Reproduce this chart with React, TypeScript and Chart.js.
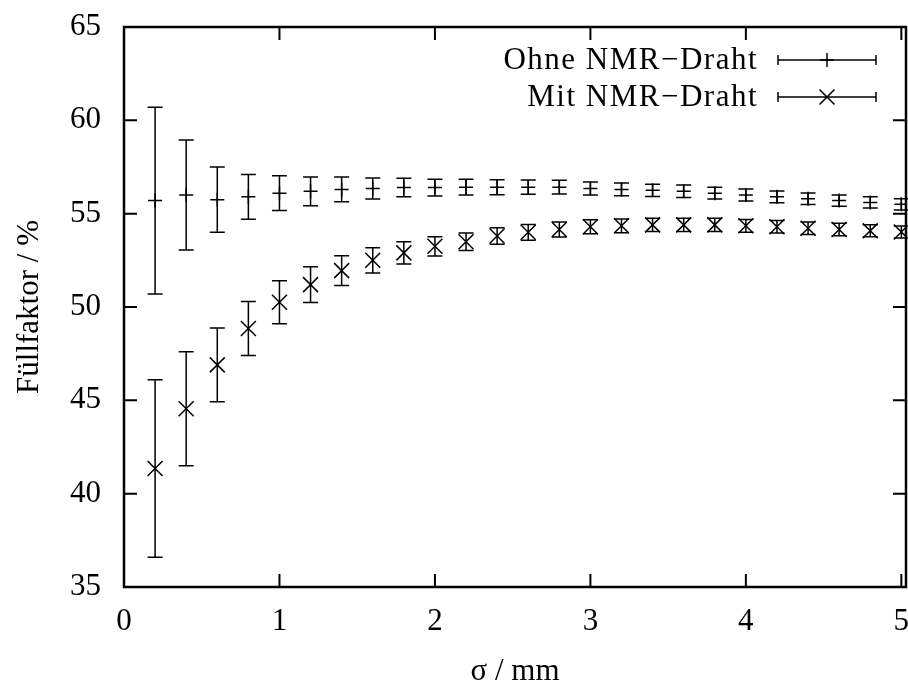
import React, { useEffect, useRef } from "react";
import { Chart, registerables } from "chart.js";

Chart.register(...registerables);

const sigma = [0.2, 0.4, 0.6, 0.8, 1.0, 1.2, 1.4, 1.6, 1.8, 2.0, 2.2, 2.4, 2.6, 2.8, 3.0, 3.2, 3.4, 3.6, 3.8, 4.0, 4.2, 4.4, 4.6, 4.8, 5.0];
const ohneValues = [55.7, 56.0, 55.75, 55.9, 56.1, 56.2, 56.3, 56.35, 56.4, 56.4, 56.42, 56.42, 56.42, 56.42, 56.35, 56.3, 56.25, 56.2, 56.1, 56.0, 55.9, 55.8, 55.7, 55.6, 55.5];
const ohneErrors = [5.0, 2.95, 1.75, 1.2, 0.93, 0.77, 0.66, 0.56, 0.5, 0.45, 0.42, 0.4, 0.38, 0.37, 0.35, 0.34, 0.33, 0.33, 0.32, 0.32, 0.31, 0.31, 0.3, 0.3, 0.3];
const mitValues = [41.35, 44.55, 46.9, 48.85, 50.25, 51.2, 51.95, 52.5, 52.9, 53.25, 53.5, 53.8, 54.0, 54.15, 54.3, 54.35, 54.4, 54.4, 54.4, 54.35, 54.3, 54.22, 54.15, 54.08, 54.02];
const mitErrors = [4.75, 3.05, 1.97, 1.45, 1.15, 0.96, 0.8, 0.68, 0.6, 0.52, 0.47, 0.44, 0.42, 0.4, 0.38, 0.37, 0.36, 0.35, 0.35, 0.34, 0.34, 0.33, 0.33, 0.32, 0.32];
const xTicks = [0, 1, 2, 3, 4, 5];
const yTicks = [35, 40, 45, 50, 55, 60, 65];
const seriesLabels = ["Ohne NMR\u2212Draht", "Mit NMR\u2212Draht"];
const xTitle = "\u03c3 / mm";
const yTitle = "F\u00fcllfaktor / %";

const FONT = "'Liberation Serif', 'Times New Roman', serif";
const FONT_SIZE = 31;

function drawMarker(ctx: CanvasRenderingContext2D, style: string, x: number, y: number) {
  ctx.beginPath();
  if (style === "cross") {
    ctx.moveTo(x - 7, y);
    ctx.lineTo(x + 7, y);
    ctx.moveTo(x, y - 7);
    ctx.lineTo(x, y + 7);
  } else {
    ctx.moveTo(x - 7.5, y - 7.5);
    ctx.lineTo(x + 7.5, y + 7.5);
    ctx.moveTo(x + 7.5, y - 7.5);
    ctx.lineTo(x - 7.5, y + 7.5);
  }
  ctx.stroke();
}

export default function App() {
  const ref = useRef<HTMLCanvasElement>(null);

  useEffect(() => {
    if (!ref.current) return;
    const errorSets = [ohneErrors, mitErrors];
    const valueSets = [ohneValues, mitValues];
    const styles = ["cross", "crossRot"];

    const plugin = {
      id: "gnuplotStyle",
      beforeDatasetsDraw(chart: any) {
        const ctx = chart.ctx as CanvasRenderingContext2D;
        const xs = chart.scales.x;
        const ys = chart.scales.y;
        ctx.save();
        ctx.strokeStyle = "#000";
        ctx.lineWidth = 1.5;
        valueSets.forEach((vals, d) => {
          vals.forEach((v, i) => {
            const px = xs.getPixelForValue(sigma[i]);
            const top = ys.getPixelForValue(v + errorSets[d][i]);
            const bot = ys.getPixelForValue(v - errorSets[d][i]);
            ctx.beginPath();
            ctx.moveTo(px, top);
            ctx.lineTo(px, bot);
            ctx.moveTo(px - 7.5, top);
            ctx.lineTo(px + 7.5, top);
            ctx.moveTo(px - 7.5, bot);
            ctx.lineTo(px + 7.5, bot);
            ctx.stroke();
          });
        });
        ctx.restore();
      },
      afterDraw(chart: any) {
        const ctx = chart.ctx as CanvasRenderingContext2D;
        const a = chart.chartArea;
        const xs = chart.scales.x;
        const ys = chart.scales.y;
        ctx.save();
        ctx.strokeStyle = "#000";
        ctx.lineWidth = 2;
        ctx.beginPath();
        xTicks.forEach((t) => {
          const px = xs.getPixelForValue(t);
          ctx.moveTo(px, a.bottom);
          ctx.lineTo(px, a.bottom - 13);
          ctx.moveTo(px, a.top);
          ctx.lineTo(px, a.top + 13);
        });
        yTicks.forEach((t) => {
          const py = ys.getPixelForValue(t);
          ctx.moveTo(a.left, py);
          ctx.lineTo(a.left + 13, py);
          ctx.moveTo(a.right, py);
          ctx.lineTo(a.right - 13, py);
        });
        ctx.stroke();
        ctx.lineWidth = 2.5;
        ctx.strokeRect(a.left, a.top, a.right - a.left, a.bottom - a.top);

        // legend
        ctx.font = `${FONT_SIZE}px ${FONT}`;
        ctx.fillStyle = "#000";
        ctx.textAlign = "right";
        ctx.textBaseline = "middle";
        (ctx as any).letterSpacing = "1.5px";
        ctx.lineWidth = 1.5;
        const rows = [60, 97];
        seriesLabels.forEach((lab, i) => {
          const y = rows[i];
          ctx.fillText(lab, 758, y + 1);
          ctx.beginPath();
          ctx.moveTo(778, y);
          ctx.lineTo(876, y);
          ctx.moveTo(778, y - 5);
          ctx.lineTo(778, y + 5);
          ctx.moveTo(876, y - 5);
          ctx.lineTo(876, y + 5);
          ctx.stroke();
          drawMarker(ctx, styles[i], 827, y);
        });
        ctx.restore();
      },
    };

    const chart = new Chart(ref.current, {
      type: "scatter",
      data: {
        datasets: [
          {
            label: seriesLabels[0],
            data: sigma.map((x, i) => ({ x, y: ohneValues[i] })),
            pointStyle: "cross",
            pointRadius: 7,
            borderColor: "#000",
            backgroundColor: "#000",
            borderWidth: 1.5,
            showLine: false,
          },
          {
            label: seriesLabels[1],
            data: sigma.map((x, i) => ({ x, y: mitValues[i] })),
            pointStyle: "crossRot",
            pointRadius: 10.6,
            borderColor: "#000",
            backgroundColor: "#000",
            borderWidth: 1.5,
            showLine: false,
          },
        ],
      },
      options: {
        responsive: false,
        animation: false,
        events: [],
        layout: { autoPadding: false, padding: { top: 27, right: 2, left: 0, bottom: 0 } },
        plugins: { legend: { display: false }, tooltip: { enabled: false } },
        scales: {
          x: {
            type: "linear",
            min: 0,
            max: 5.03,
            afterBuildTicks: (s: any) => {
              s.ticks = xTicks.map((v) => ({ value: v }));
            },
            afterFit: (s: any) => {
              s.height = 101;
              s.paddingLeft = 0;
              s.paddingRight = 0;
              s.paddingTop = 0;
              s.paddingBottom = 0;
            },
            grid: { display: false, drawTicks: false },
            border: { display: false },
            ticks: {
              font: { family: FONT, size: FONT_SIZE },
              color: "#000",
              padding: 16,
              maxRotation: 0,
              autoSkip: false,
            },
            title: {
              display: true,
              text: xTitle,
              font: { family: FONT, size: FONT_SIZE, lineHeight: 1.0 },
              color: "#000",
              padding: { top: 0, bottom: 1 },
            },
          },
          y: {
            type: "linear",
            min: 35,
            max: 65,
            afterBuildTicks: (s: any) => {
              s.ticks = yTicks.map((v) => ({ value: v }));
            },
            afterFit: (s: any) => {
              s.width = 124;
              s.paddingLeft = 0;
              s.paddingRight = 0;
              s.paddingTop = 0;
              s.paddingBottom = 0;
            },
            grid: { display: false, drawTicks: false },
            border: { display: false },
            ticks: {
              font: { family: FONT, size: FONT_SIZE },
              color: "#000",
              padding: 23,
              autoSkip: false,
            },
            title: {
              display: true,
              text: yTitle,
              font: { family: FONT, size: FONT_SIZE, lineHeight: 1.0 },
              color: "#000",
              padding: { top: 14, bottom: 0 },
            },
          },
        },
      },
      plugins: [plugin],
    } as any);

    return () => chart.destroy();
  }, []);

  return (
    <div style={{ position: "fixed", left: 0, top: 0, width: 908, height: 688, background: "#fff" }}>
      <canvas ref={ref} width={908} height={688} style={{ display: "block" }} />
    </div>
  );
}
